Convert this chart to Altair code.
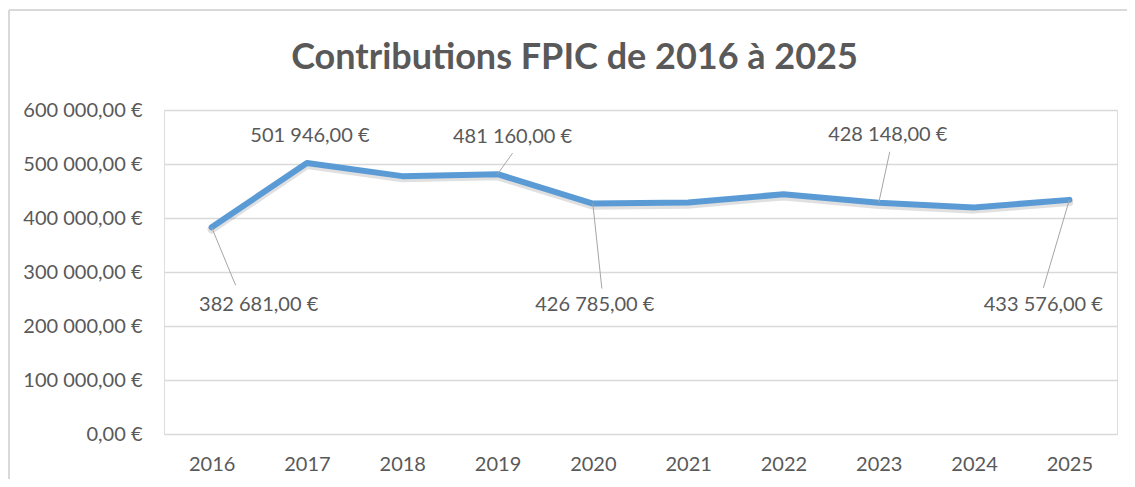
import altair as alt
import pandas as pd

years = [2016, 2017, 2018, 2019, 2020, 2021, 2022, 2023, 2024, 2025]
values = [382681, 501946, 477500, 481160, 426785, 428500, 444000, 428148, 419500, 433576]
labelled_years = [2016, 2017, 2019, 2020, 2023, 2025]
y_ticks = [0, 100000, 200000, 300000, 400000, 500000, 600000]
title_text = "Contributions FPIC de 2016 à 2025"

W, H = 953, 324
X_DOM = [2015.5, 2025.5]
Y_DOM = [0, 600000]
px_x = (X_DOM[1] - X_DOM[0]) / W
px_y = (Y_DOM[1] - Y_DOM[0]) / H

# label placement offsets (pixels): text dx, dy, leader end dx, dy (None = no leader)
placement = {
    2016: (47, 78, 24, 58),
    2017: (3, -27, None, None),
    2019: (15, -37, 15, -21),
    2020: (2, 101, 9, 85),
    2023: (9, -68, 11, -51),
    2025: (-26, 105, -26, 88),
}

def euro(v):
    s = f"{v:,.2f}".replace(",", " ").replace(".", ",")
    return s + " €"

df = pd.DataFrame({"year": years, "value": values})
df["label"] = [euro(v) for v in values]

FONT = "Lato"
GREY = "#595959"
FS = 20

x_enc = alt.X("year:Q", scale=alt.Scale(domain=X_DOM, nice=False, zero=False),
              axis=alt.Axis(values=years, format="d", grid=False, ticks=False, domain=False,
                            labelPadding=20, labelFontSize=FS, labelColor=GREY, labelFont=FONT,
                            labelFlush=False, title=None))
y_enc = alt.Y("value:Q", scale=alt.Scale(domain=Y_DOM, nice=False),
              axis=alt.Axis(values=y_ticks, grid=True, gridColor="#d9d9d9", gridWidth=1.5,
                            ticks=False, domain=False, labelPadding=22, labelFontSize=FS,
                            labelColor=GREY, labelFont=FONT, title=None,
                            labelExpr="replace(replace(format(datum.value, ',.2f'), ',', ' '), '.', ',') + ' €'"))

base = alt.Chart(df)

shadow = base.transform_calculate(sv="datum.value - 4000").mark_line(
    color="#000000", opacity=0.12, strokeWidth=8, strokeJoin="round", strokeCap="round"
).encode(x=x_enc, y="sv:Q")

line = base.mark_line(color="#5B9BD5", strokeWidth=6, strokeJoin="round", strokeCap="round").encode(
    x=x_enc, y=y_enc)

layers = [shadow, line]

# leader lines
lead_rows = []
for yr, (tdx, tdy, ldx, ldy) in placement.items():
    if ldx is None:
        continue
    v = values[years.index(yr)]
    lead_rows.append({"year": yr, "value": v, "year2": yr + ldx * px_x, "value2": v - ldy * px_y})
lead_df = pd.DataFrame(lead_rows)
leaders = alt.Chart(lead_df).mark_rule(color="#a6a6a6", strokeWidth=1).encode(
    x=alt.X("year:Q"), y=alt.Y("value:Q"), x2="year2:Q", y2="value2:Q")
layers.append(leaders)

for yr, (tdx, tdy, ldx, ldy) in placement.items():
    t = base.transform_filter(alt.datum.year == yr).mark_text(
        dx=tdx, dy=tdy, fontSize=FS, font=FONT, color=GREY, align="center", baseline="middle"
    ).encode(x="year:Q", y="value:Q", text="label:N")
    layers.append(t)

# chart frame (decoration)
frame_left = alt.Chart(df).mark_rule(color="#d9d9d9", strokeWidth=1.5, clip=False).encode(
    x=alt.value(-155), y=alt.value(-100), y2=alt.value(H + 60))
frame_top = alt.Chart(df).mark_rule(color="#d9d9d9", strokeWidth=1.5, clip=False).encode(
    x=alt.value(-155), x2=alt.value(W + 20), y=alt.value(-100))
layers = [frame_left, frame_top] + layers

chart = alt.layer(*layers).properties(
    width=W, height=H,
    autosize=alt.AutoSizeParams(type="none"),
    padding={"left": 156, "top": 102, "right": 10, "bottom": 45},
    title=alt.TitleParams(title_text, font=FONT, fontSize=36, fontWeight="bold", color=GREY,
                          anchor="middle", frame="group", baseline="alphabetic", offset=-96, dx=-66),
).configure_view(stroke=None).configure(background="white")

chart.save("out.html", embed_options={"renderer": "svg", "actions": False})
